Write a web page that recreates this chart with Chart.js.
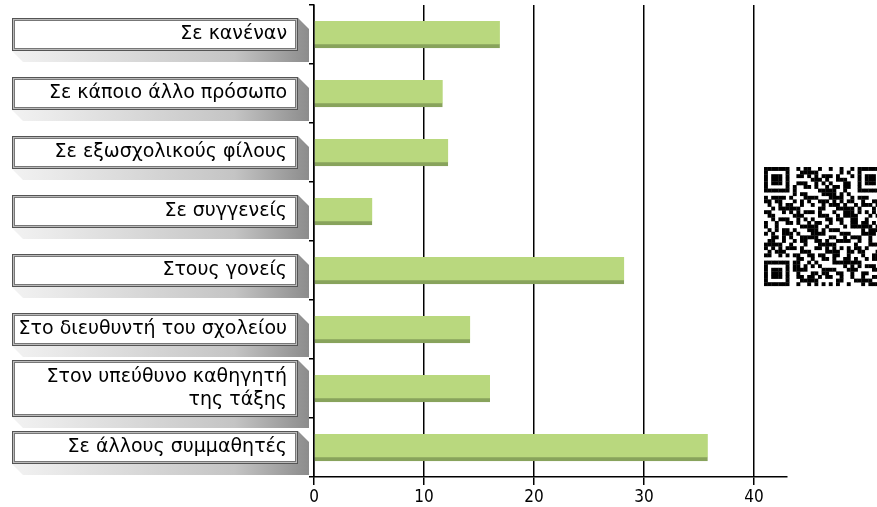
<!DOCTYPE html>
<html>
<head>
<meta charset="utf-8">
<script src="https://cdn.jsdelivr.net/npm/chart.js@4.4.1/dist/chart.umd.min.js"></script>
<style>
  html, body { margin: 0; padding: 0; background: #fff; }
  #wrap { width: 877px; height: 507px; position: relative; }
</style>
</head>
<body>
<div id="wrap"><canvas id="bars"></canvas></div>
<script>
// categories, top to bottom
const categories = [
  'Σε κανέναν',
  'Σε κάποιο άλλο πρόσωπο',
  'Σε εξωσχολικούς φίλους',
  'Σε συγγενείς',
  'Στους γονείς',
  'Στο διευθυντή του σχολείου',
  ['Στον υπεύθυνο καθηγητή', 'της τάξης'],
  'Σε άλλους συμμαθητές'
];
const values = [16.9, 11.7, 12.2, 5.3, 28.2, 14.2, 16.0, 35.8];
const xTicks = [0, 10, 20, 30, 40];
const xMax = 43;

// framed label boxes with the grey 3d shadow behind the y tick labels
const labelBoxes = {
  id: 'labelBoxes',
  beforeDraw(chart) {
    const ctx = chart.ctx;
    const y = chart.scales.y;
    ctx.save();
    categories.forEach((lab, i) => {
      const cy = y.getPixelForValue(i);
      const h = Array.isArray(lab) ? 57 : 33;
      const left = 12, right = 298;
      const top = cy - h / 2, bottom = cy + h / 2;
      const d = 11;

      const g = ctx.createLinearGradient(left, 0, right + d, 0);
      g.addColorStop(0, '#f2f2f2');
      g.addColorStop(0.75, '#c4c4c4');
      g.addColorStop(1, '#8c8c8c');
      ctx.fillStyle = g;
      ctx.beginPath();
      ctx.moveTo(right, top);
      ctx.lineTo(right + d, top + d);
      ctx.lineTo(right + d, bottom + d);
      ctx.lineTo(left + d, bottom + d);
      ctx.lineTo(left, bottom);
      ctx.closePath();
      ctx.fill();

      ctx.fillStyle = '#fff';
      ctx.fillRect(left, top, right - left, h);
      ctx.lineWidth = 1;
      ctx.strokeStyle = '#555';
      ctx.strokeRect(left + 0.5, top + 0.5, right - left - 1, h - 1);
      ctx.strokeStyle = '#bbb';
      ctx.strokeRect(left + 1.5, top + 1.5, right - left - 3, h - 3);
      ctx.strokeStyle = '#777';
      ctx.strokeRect(left + 2.5, top + 2.5, right - left - 5, h - 5);
    });
    ctx.restore();
  }
};

// QR code picture at the right edge (decoration only)
const qrCode = {
  id: 'qrCode',
  afterDraw(chart) {
    const ctx = chart.ctx;
    const x0 = 764, y0 = 167, m = 3.6, n = 33;
    const finder = (r, c, fr, fc) => {
      const a = r - fr, b = c - fc;
      if (a < 0 || a > 6 || b < 0 || b > 6) return null;
      if (a === 0 || a === 6 || b === 0 || b === 6) return true;
      if (a === 1 || a === 5 || b === 1 || b === 5) return false;
      return true;
    };
    ctx.save();
    ctx.fillStyle = '#000';
    for (let r = 0; r < n; r++) {
      for (let c = 0; c < n; c++) {
        let on = finder(r, c, 0, 0);
        if (on === null) on = finder(r, c, 0, 26);
        if (on === null) on = finder(r, c, 26, 0);
        if (on === null) {
          if ((r === 7 && c < 8) || (c === 7 && r < 8) || (r === 7 && c > 24) ||
              (c === 25 && r < 8) || (r === 25 && c < 8) || (c === 7 && r > 24)) on = false;
          else on = ((r * 7 + c * 11 + ((r * c) % 5)) % 3) === 0 || ((r + 2 * c) % 7) === 1 || ((r * 3 + c) % 11) === 4;
        }
        if (on) ctx.fillRect(x0 + c * m, y0 + r * m, m + 0.3, m + 0.3);
      }
    }
    ctx.restore();
  }
};

const ctx = document.getElementById('bars').getContext('2d');
new Chart(ctx, {
  type: 'bar',
  data: {
    labels: categories,
    datasets: [{
      data: values,
      backgroundColor: '#b9d87e',
      borderColor: '#88a35c',
      borderWidth: { top: 0, right: 0, bottom: 4, left: 0 },
      borderSkipped: false,
      barThickness: 27
    }]
  },
  options: {
    indexAxis: 'y',
    responsive: true,
    maintainAspectRatio: false,
    animation: false,
    layout: { padding: { top: 5, right: 90, left: 0, bottom: 0 } },
    plugins: { legend: { display: false }, tooltip: { enabled: false } },
    scales: {
      x: {
        min: 0,
        max: xMax,
        afterBuildTicks: s => { s.ticks = xTicks.map(v => ({ value: v })); },
        afterFit: s => { s.height = 30; s.paddingLeft = 0; s.paddingRight = 0; },
        grid: { color: '#000', lineWidth: 1.5, drawTicks: true, tickLength: 8 },
        border: { color: '#000', width: 1.5 },
        ticks: {
          color: '#000',
          padding: 2,
          font: { family: '"DejaVu Sans Condensed", "DejaVu Sans", sans-serif', size: 17 }
        }
      },
      y: {
        afterFit: s => { s.width = 314; s.paddingTop = 0; s.paddingBottom = 0; },
        grid: { drawOnChartArea: false, drawTicks: true, tickLength: 5, color: '#000', lineWidth: 1.5 },
        border: { color: '#000', width: 1.5 },
        ticks: {
          color: '#000',
          padding: 22,
          font: { family: '"DejaVu Sans", sans-serif', size: 19, lineHeight: 1.25 }
        }
      }
    }
  },
  plugins: [labelBoxes, qrCode]
});
</script>
</body>
</html>
